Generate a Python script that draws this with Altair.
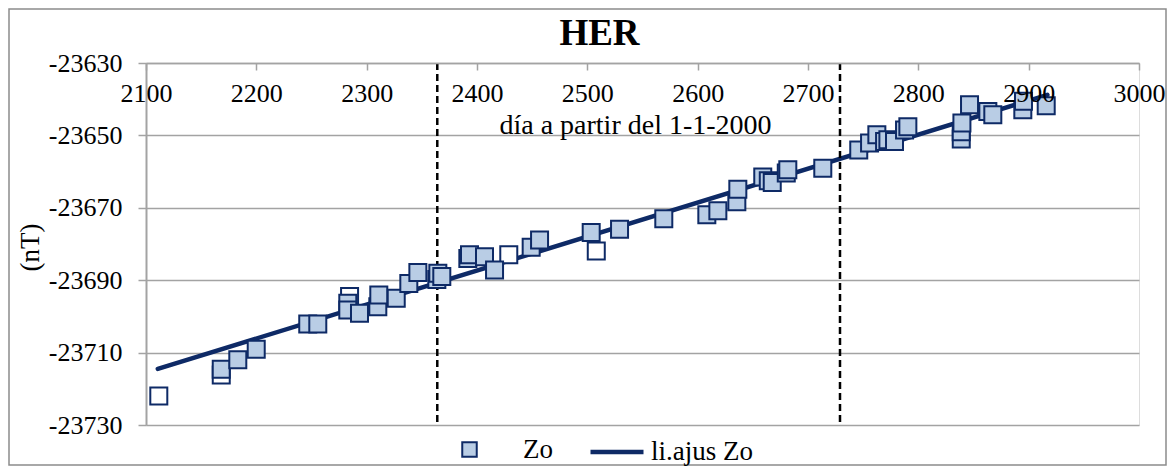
import altair as alt
import pandas as pd

# ---- data ----
filled_x = [2168.2, 2183.2, 2199.9, 2246.6, 2255.7, 2282.9, 2282.9, 2293.5, 2310.1, 2311.0,
            2326.8, 2338.2, 2346.4, 2363.6, 2364.5, 2368.1, 2391.7, 2393.2, 2406.8, 2415.9,
            2449.1, 2456.7, 2503.5, 2529.2, 2569.3, 2608.3, 2618.3, 2635.5, 2636.4, 2659.0,
            2664.0, 2667.6, 2680.3, 2681.7, 2713.4, 2746.0, 2755.8, 2762.4, 2769.4, 2772.4,
            2778.4, 2787.5, 2790.5, 2838.9, 2838.9, 2839.5, 2846.4, 2863.0, 2867.5, 2894.7,
            2895.3, 2915.9]
filled_y = [-23714.6, -23712.0, -23709.1, -23702.1, -23702.1, -23696.4, -23698.2, -23699.1, -23697.3, -23694.1,
            -23695.0, -23690.9, -23687.9, -23689.8, -23688.1, -23689.0, -23684.0, -23683.0, -23683.5, -23687.2,
            -23680.9, -23678.9, -23676.8, -23675.9, -23673.0, -23671.9, -23670.8, -23668.3, -23664.9, -23661.5,
            -23662.5, -23663.0, -23660.4, -23659.5, -23659.1, -23654.0, -23652.1, -23649.8, -23651.7, -23651.2,
            -23651.7, -23648.5, -23647.6, -23651.0, -23649.0, -23646.6, -23641.5, -23643.4, -23644.3, -23642.9,
            -23640.6, -23641.8]
hollow_x = [2111.6, 2168.2, 2284.5, 2428.8, 2508.1]
hollow_y = [-23722.0, -23716.2, -23694.5, -23683.0, -23681.9]
fit_x = [2110.7, 2917.0]
fit_y = [-23714.5, -23638.8]
break_days = [2364, 2729]
x_ticks = [2100, 2200, 2300, 2400, 2500, 2600, 2700, 2800, 2900, 3000]
y_ticks = [-23730, -23710, -23690, -23670, -23650, -23630]
chart_title = "HER"

FONT = "Liberation Serif"
NAVY = "#0E2A66"
FILL = "#B9CDE5"
GRAY = "#A3A3A3"
W, H = 993, 362

pts = pd.DataFrame({"dia": filled_x, "z": filled_y, "sp": ["Zo"] * len(filled_x)})
hol = pd.DataFrame({"dia": hollow_x, "z": hollow_y})
fit = pd.DataFrame({"dia": fit_x, "z": fit_y, "sl": ["li.ajus Zo"] * len(fit_x)})
brk = pd.DataFrame({"dia": break_days})

xscale = alt.Scale(domain=[2100, 3000], nice=False, zero=False)
yscale = alt.Scale(domain=[-23730, -23630], nice=False, zero=False)

xaxis = alt.Axis(values=x_ticks, format="d", orient="bottom", offset=-H, zindex=1,
                 grid=False, tickSize=7, tickColor=GRAY, tickWidth=1.5,
                 domainColor=GRAY, domainWidth=1.5,
                 labelFont=FONT, labelFontSize=26, labelColor="black",
                 labelPadding=31, labelBaseline="alphabetic", labelFlush=False,
                 labelOverlap=False,
                 title="día a partir del 1-1-2000", titleFont=FONT, titleFontSize=28,
                 titleFontWeight="normal", titleColor="black",
                 titleX=489, titleY=70, titleAlign="center", titleBaseline="alphabetic")
yaxis = alt.Axis(values=y_ticks, labelExpr="'' + datum.value",
                 grid=True, gridColor=GRAY, gridWidth=1.5,
                 tickSize=8, tickColor=GRAY, tickWidth=1.5,
                 domainColor=GRAY, domainWidth=2,
                 labelFont=FONT, labelFontSize=26, labelColor="black", labelPadding=16,
                 labelFlush=False, labelOverlap=False,
                 title="(nT)", titleFont=FONT, titleFontSize=27, titleFontWeight="normal",
                 titleColor="black", titleX=-116, titleY=184, titleAngle=-90,
                 titleAlign="center", titleBaseline="middle")

frame = alt.Chart(pd.DataFrame({"k": [0]})).mark_rect(
    fill=None, stroke="#8C8C8C", strokeWidth=1.5, clip=False
).encode(x=alt.value(-137), x2=alt.value(W + 27), y=alt.value(-54), y2=alt.value(H + 40))

title = alt.Chart(pd.DataFrame({"t": [chart_title]})).mark_text(
    font=FONT, fontSize=37, fontWeight="bold", color="black", align="center",
    baseline="alphabetic", clip=False
).encode(text="t:N", x=alt.value(W / 2 - 43), y=alt.value(-18))

line = alt.Chart(fit).mark_line(strokeWidth=4.5, strokeCap="round").encode(
    x=alt.X("dia:Q", scale=xscale, axis=xaxis),
    y=alt.Y("z:Q", scale=yscale, axis=yaxis),
    stroke=alt.Stroke("sl:N", scale=alt.Scale(domain=["li.ajus Zo"], range=[NAVY]),
                      legend=alt.Legend(title=None, orient="none", legendX=442, legendY=360,
                                        symbolType="stroke", symbolSize=2809,
                                        symbolStrokeWidth=4.5, labelOffset=5,
                                        labelFont=FONT, labelFontSize=27, labelColor="black",
                                        padding=0)),
)

rules = alt.Chart(brk).mark_rule(color="black", strokeWidth=2.5, strokeDash=[7, 4]).encode(
    x=alt.X("dia:Q", scale=xscale)
)

hollow = alt.Chart(hol).mark_point(shape="square", size=289, filled=True, fill="white",
                                   stroke=NAVY, strokeWidth=2, opacity=1).encode(
    x=alt.X("dia:Q", scale=xscale),
    y=alt.Y("z:Q", scale=yscale),
)

points = alt.Chart(pts).mark_point(shape="square", size=289, filled=True, fill=FILL,
                                   strokeWidth=2, opacity=1).encode(
    x=alt.X("dia:Q", scale=xscale),
    y=alt.Y("z:Q", scale=yscale),
    stroke=alt.Stroke("sp:N", scale=alt.Scale(domain=["Zo"], range=[NAVY]),
                      legend=alt.Legend(title=None, orient="none", legendX=310, legendY=373,
                                        symbolType="square", symbolSize=210,
                                        symbolFillColor=FILL, symbolStrokeWidth=2,
                                        labelOffset=40, labelFont=FONT, labelFontSize=27,
                                        labelColor="black", padding=0)),
)

chart = alt.layer(frame, title, line, rules, hollow, points).resolve_scale(
    stroke="independent"
).resolve_legend(stroke="independent").properties(
    width=W, height=H,
    padding={"left": 138, "top": 55, "right": 28, "bottom": 41},
    autosize=alt.AutoSizeParams(type="none"),
).configure_view(stroke=None).configure(background="white")

chart.save("out.html", embed_options={"renderer": "svg", "actions": False})
